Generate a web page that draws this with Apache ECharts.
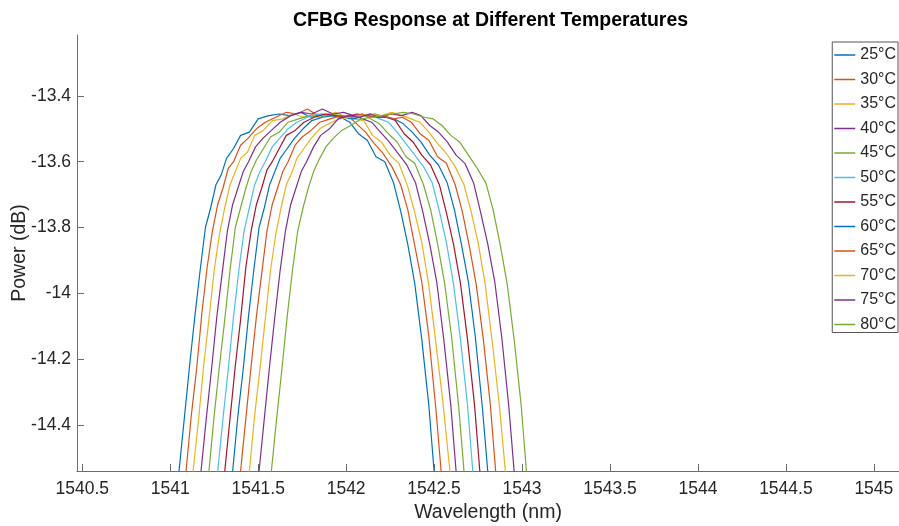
<!DOCTYPE html>
<html>
<head>
<meta charset="utf-8">
<title>CFBG Response</title>
<script src="https://cdn.jsdelivr.net/npm/echarts@6/dist/echarts.min.js"></script>
<style>
html, body { margin: 0; padding: 0; background: #fff; }
#main { width: 899px; height: 526px; }
</style>
</head>
<body>
<div id="main"></div>
<script>
var temps = ['25°C', '30°C', '35°C', '40°C', '45°C', '50°C', '55°C', '60°C', '65°C', '70°C', '75°C', '80°C'];
var xTicks = [1540.5, 1541, 1541.5, 1542, 1542.5, 1543, 1543.5, 1544, 1544.5, 1545];
var yTicks = [-14.4, -14.2, -14, -13.8, -13.6, -13.4];

// wavelength (nm) / power (dB), one pair of arrays per temperature
var wl25 = [1541.00, 1541.05, 1541.08, 1541.11, 1541.14, 1541.17, 1541.20, 1541.23, 1541.26, 1541.29, 1541.32, 1541.36, 1541.40, 1541.45, 1541.50, 1541.56, 1541.62, 1541.68, 1541.74, 1541.80, 1541.86, 1541.92, 1541.97, 1542.02, 1542.07, 1542.12, 1542.17, 1542.22, 1542.27, 1542.31, 1542.35, 1542.39, 1542.43, 1542.47, 1542.50, 1542.54];
var pw25 = [-14.76, -14.54, -14.38, -14.22, -14.07, -13.93, -13.80, -13.74, -13.67, -13.64, -13.59, -13.56, -13.52, -13.51, -13.47, -13.46, -13.455, -13.46, -13.45, -13.465, -13.455, -13.46, -13.465, -13.48, -13.515, -13.535, -13.585, -13.60, -13.665, -13.75, -13.85, -13.97, -14.14, -14.34, -14.54, -14.78];

var wl30 = [1541.04, 1541.09, 1541.12, 1541.15, 1541.18, 1541.21, 1541.24, 1541.27, 1541.30, 1541.33, 1541.36, 1541.40, 1541.44, 1541.49, 1541.54, 1541.60, 1541.66, 1541.72, 1541.78, 1541.84, 1541.90, 1541.96, 1542.01, 1542.06, 1542.11, 1542.16, 1542.21, 1542.26, 1542.31, 1542.35, 1542.39, 1542.43, 1542.47, 1542.51, 1542.54, 1542.58];
var pw30 = [-14.75, -14.54, -14.37, -14.23, -14.06, -13.92, -13.81, -13.73, -13.68, -13.62, -13.60, -13.55, -13.53, -13.50, -13.48, -13.465, -13.45, -13.455, -13.44, -13.46, -13.455, -13.465, -13.46, -13.485, -13.51, -13.545, -13.575, -13.615, -13.67, -13.745, -13.855, -13.965, -14.13, -14.35, -14.54, -14.77];

var wl35 = [1541.08, 1541.13, 1541.16, 1541.19, 1541.22, 1541.25, 1541.28, 1541.31, 1541.34, 1541.37, 1541.40, 1541.44, 1541.48, 1541.53, 1541.58, 1541.64, 1541.70, 1541.76, 1541.82, 1541.88, 1541.94, 1542.00, 1542.05, 1542.10, 1542.15, 1542.20, 1542.25, 1542.30, 1542.35, 1542.39, 1542.43, 1542.47, 1542.51, 1542.55, 1542.59, 1542.63];
var pw35 = [-14.77, -14.54, -14.39, -14.22, -14.08, -13.93, -13.82, -13.74, -13.67, -13.63, -13.59, -13.57, -13.52, -13.505, -13.475, -13.47, -13.455, -13.465, -13.455, -13.46, -13.45, -13.465, -13.47, -13.475, -13.52, -13.54, -13.58, -13.605, -13.675, -13.755, -13.845, -13.975, -14.15, -14.33, -14.54, -14.76];

var wl40 = [1541.125, 1541.175, 1541.205, 1541.235, 1541.265, 1541.295, 1541.325, 1541.355, 1541.385, 1541.415, 1541.445, 1541.485, 1541.525, 1541.575, 1541.625, 1541.685, 1541.745, 1541.805, 1541.865, 1541.925, 1541.985, 1542.045, 1542.095, 1542.145, 1542.195, 1542.245, 1542.295, 1542.345, 1542.395, 1542.435, 1542.475, 1542.515, 1542.555, 1542.595, 1542.625, 1542.665];
var pw40 = [-14.76, -14.54, -14.38, -14.23, -14.07, -13.94, -13.81, -13.73, -13.68, -13.63, -13.60, -13.555, -13.53, -13.505, -13.48, -13.46, -13.45, -13.455, -13.44, -13.455, -13.45, -13.46, -13.47, -13.48, -13.51, -13.54, -13.575, -13.61, -13.665, -13.75, -13.85, -13.965, -14.14, -14.34, -14.54, -14.77];

var wl45 = [1541.17, 1541.22, 1541.25, 1541.28, 1541.31, 1541.34, 1541.37, 1541.40, 1541.43, 1541.46, 1541.49, 1541.53, 1541.57, 1541.62, 1541.67, 1541.73, 1541.79, 1541.85, 1541.91, 1541.97, 1542.03, 1542.09, 1542.14, 1542.19, 1542.24, 1542.29, 1542.34, 1542.39, 1542.44, 1542.48, 1542.52, 1542.56, 1542.60, 1542.64, 1542.67, 1542.71];
var pw45 = [-14.75, -14.54, -14.37, -14.22, -14.08, -13.93, -13.80, -13.74, -13.68, -13.63, -13.595, -13.56, -13.525, -13.51, -13.48, -13.47, -13.46, -13.465, -13.455, -13.46, -13.465, -13.455, -13.47, -13.485, -13.515, -13.54, -13.585, -13.605, -13.67, -13.745, -13.85, -13.97, -14.135, -14.345, -14.54, -14.77];

var wl50 = [1541.22, 1541.27, 1541.30, 1541.33, 1541.36, 1541.39, 1541.42, 1541.45, 1541.48, 1541.51, 1541.54, 1541.58, 1541.62, 1541.67, 1541.72, 1541.78, 1541.84, 1541.90, 1541.96, 1542.02, 1542.08, 1542.14, 1542.19, 1542.24, 1542.29, 1542.34, 1542.39, 1542.44, 1542.49, 1542.53, 1542.57, 1542.61, 1542.65, 1542.69, 1542.72, 1542.76];
var pw50 = [-14.76, -14.54, -14.38, -14.23, -14.07, -13.93, -13.81, -13.74, -13.67, -13.63, -13.60, -13.555, -13.53, -13.50, -13.48, -13.465, -13.455, -13.46, -13.46, -13.47, -13.46, -13.455, -13.47, -13.48, -13.51, -13.545, -13.58, -13.615, -13.665, -13.75, -13.845, -13.97, -14.14, -14.34, -14.54, -14.76];

var wl55 = [1541.26, 1541.31, 1541.34, 1541.37, 1541.40, 1541.43, 1541.46, 1541.49, 1541.52, 1541.55, 1541.58, 1541.62, 1541.66, 1541.71, 1541.76, 1541.82, 1541.88, 1541.94, 1542.00, 1542.06, 1542.12, 1542.18, 1542.23, 1542.28, 1542.33, 1542.38, 1542.43, 1542.48, 1542.53, 1542.57, 1542.61, 1542.65, 1542.69, 1542.73, 1542.76, 1542.80];
var pw55 = [-14.77, -14.54, -14.38, -14.22, -14.08, -13.92, -13.81, -13.73, -13.68, -13.625, -13.60, -13.56, -13.52, -13.505, -13.48, -13.465, -13.455, -13.46, -13.465, -13.455, -13.46, -13.465, -13.465, -13.475, -13.515, -13.54, -13.58, -13.61, -13.67, -13.755, -13.85, -13.97, -14.14, -14.34, -14.54, -14.78];

var wl60 = [1541.305, 1541.355, 1541.385, 1541.415, 1541.445, 1541.475, 1541.505, 1541.535, 1541.565, 1541.595, 1541.625, 1541.665, 1541.705, 1541.755, 1541.805, 1541.865, 1541.925, 1541.985, 1542.045, 1542.105, 1542.165, 1542.225, 1542.275, 1542.325, 1542.375, 1542.425, 1542.475, 1542.525, 1542.575, 1542.615, 1542.655, 1542.695, 1542.735, 1542.775, 1542.805, 1542.845];
var pw60 = [-14.75, -14.54, -14.37, -14.23, -14.07, -13.93, -13.80, -13.74, -13.67, -13.63, -13.59, -13.56, -13.53, -13.50, -13.475, -13.465, -13.46, -13.465, -13.47, -13.46, -13.455, -13.465, -13.47, -13.485, -13.51, -13.54, -13.58, -13.61, -13.665, -13.745, -13.85, -13.965, -14.135, -14.35, -14.54, -14.77];

var wl65 = [1541.35, 1541.40, 1541.43, 1541.46, 1541.49, 1541.52, 1541.55, 1541.58, 1541.61, 1541.64, 1541.67, 1541.71, 1541.75, 1541.80, 1541.85, 1541.91, 1541.97, 1542.03, 1542.09, 1542.15, 1542.21, 1542.27, 1542.32, 1542.37, 1542.42, 1542.47, 1542.52, 1542.57, 1542.62, 1542.66, 1542.70, 1542.74, 1542.78, 1542.82, 1542.85, 1542.89];
var pw65 = [-14.76, -14.54, -14.38, -14.22, -14.07, -13.94, -13.81, -13.73, -13.68, -13.63, -13.60, -13.55, -13.525, -13.505, -13.48, -13.47, -13.46, -13.465, -13.455, -13.465, -13.46, -13.47, -13.465, -13.48, -13.515, -13.535, -13.585, -13.605, -13.67, -13.75, -13.855, -13.975, -14.14, -14.34, -14.54, -14.77];

var wl70 = [1541.40, 1541.45, 1541.48, 1541.51, 1541.54, 1541.57, 1541.60, 1541.63, 1541.66, 1541.69, 1541.72, 1541.76, 1541.80, 1541.85, 1541.90, 1541.96, 1542.02, 1542.08, 1542.14, 1542.20, 1542.26, 1542.32, 1542.37, 1542.42, 1542.47, 1542.52, 1542.57, 1542.62, 1542.67, 1542.71, 1542.75, 1542.79, 1542.83, 1542.87, 1542.905, 1542.945];
var pw70 = [-14.77, -14.54, -14.37, -14.23, -14.08, -13.93, -13.82, -13.74, -13.67, -13.635, -13.59, -13.56, -13.53, -13.50, -13.485, -13.47, -13.465, -13.46, -13.455, -13.46, -13.45, -13.46, -13.47, -13.48, -13.51, -13.545, -13.575, -13.615, -13.67, -13.75, -13.845, -13.97, -14.145, -14.335, -14.54, -14.76];

var wl75 = [1541.455, 1541.505, 1541.535, 1541.565, 1541.595, 1541.625, 1541.655, 1541.685, 1541.715, 1541.745, 1541.775, 1541.815, 1541.855, 1541.905, 1541.955, 1542.015, 1542.075, 1542.135, 1542.195, 1542.255, 1542.315, 1542.375, 1542.425, 1542.475, 1542.525, 1542.575, 1542.625, 1542.675, 1542.725, 1542.765, 1542.805, 1542.845, 1542.885, 1542.925, 1542.955, 1542.995];
var pw75 = [-14.75, -14.54, -14.38, -14.22, -14.07, -13.93, -13.81, -13.73, -13.68, -13.63, -13.60, -13.555, -13.52, -13.50, -13.47, -13.46, -13.465, -13.455, -13.465, -13.455, -13.46, -13.45, -13.46, -13.49, -13.51, -13.54, -13.58, -13.605, -13.665, -13.755, -13.85, -13.965, -14.135, -14.345, -14.54, -14.78];

var wl80 = [1541.525, 1541.575, 1541.605, 1541.635, 1541.665, 1541.695, 1541.725, 1541.755, 1541.785, 1541.815, 1541.845, 1541.885, 1541.925, 1541.975, 1542.025, 1542.085, 1542.145, 1542.205, 1542.265, 1542.325, 1542.385, 1542.445, 1542.495, 1542.545, 1542.595, 1542.645, 1542.695, 1542.745, 1542.795, 1542.835, 1542.875, 1542.915, 1542.955, 1542.995, 1543.025, 1543.065];
var pw80 = [-14.76, -14.54, -14.38, -14.23, -14.07, -13.93, -13.81, -13.74, -13.68, -13.63, -13.595, -13.555, -13.53, -13.505, -13.49, -13.47, -13.465, -13.46, -13.455, -13.45, -13.455, -13.465, -13.47, -13.49, -13.52, -13.54, -13.58, -13.62, -13.665, -13.745, -13.85, -13.97, -14.14, -14.34, -14.54, -14.77];

var wavelengths = [wl25, wl30, wl35, wl40, wl45, wl50, wl55, wl60, wl65, wl70, wl75, wl80];
var powers = [pw25, pw30, pw35, pw40, pw45, pw50, pw55, pw60, pw65, pw70, pw75, pw80];
var colors = ['#0072BD', '#D95319', '#EDB120', '#7E2F8E', '#77AC30', '#4DBEEE', '#A2142F',
              '#0072BD', '#D95319', '#EDB120', '#7E2F8E', '#77AC30'];

var font = 'Liberation Sans, Arial, Helvetica, sans-serif';
var txt = '#262626';
var axisCol = '#6e6e6e';

var series = [];
for (var i = 0; i < temps.length; i++) {
    var pts = [];
    for (var j = 0; j < wavelengths[i].length; j++) {
        pts.push([wavelengths[i][j], powers[i][j]]);
    }
    series.push({
        name: temps[i],
        type: 'line',
        data: pts,
        symbol: 'none',
        clip: true,
        animation: false,
        lineStyle: { color: colors[i], width: 1.2 },
        itemStyle: { color: colors[i] }
    });
}

// plain number labels, no thousands separator
function plain(v) {
    return String(Math.round(v * 10) / 10);
}

var myChart = echarts.init(document.getElementById('main'));
myChart.setOption({
    backgroundColor: '#fff',
    animation: false,
    title: {
        text: 'CFBG Response at Different Temperatures',
        left: 293,
        top: 11,
        padding: 0,
        textStyle: { fontFamily: font, fontSize: 19.5, fontWeight: 'bold', color: '#000' }
    },
    grid: { left: 77, right: 0, top: 35, bottom: 55, outerBoundsMode: 'none' },
    legend: {
        data: temps,
        orient: 'vertical',
        right: 1,
        top: 42,
        padding: [5, 2, 0, 2],
        icon: 'rect',
        itemWidth: 21,
        itemHeight: 1.5,
        itemGap: 8.5,
        itemTextGap: 2,
        borderColor: '#555',
        borderWidth: 1,
        backgroundColor: '#fff',
        textStyle: { fontFamily: font, fontSize: 16, color: txt, lineHeight: 12 }
    },
    xAxis: {
        type: 'value',
        min: 1540.47,
        max: 1545.143,
        name: 'Wavelength (nm)',
        nameLocation: 'middle',
        nameGap: 32,
        nameMoveOverlap: false,
        nameTextStyle: { fontFamily: font, fontSize: 19.5, color: txt },
        axisLine: { show: true, onZero: false, lineStyle: { color: axisCol, width: 1 } },
        axisTick: { show: true, inside: true, length: 7, customValues: xTicks, lineStyle: { color: axisCol } },
        axisLabel: { customValues: xTicks, formatter: plain, margin: 9, fontFamily: font, fontSize: 17.5, color: txt },
        splitLine: { show: false }
    },
    yAxis: {
        type: 'value',
        min: -14.54,
        max: -13.215,
        name: 'Power (dB)',
        nameLocation: 'middle',
        nameGap: 47,
        nameMoveOverlap: false,
        nameTextStyle: { fontFamily: font, fontSize: 19.5, color: txt },
        axisLine: { show: true, onZero: false, lineStyle: { color: axisCol, width: 1 } },
        axisTick: { show: true, inside: true, length: 7, customValues: yTicks, lineStyle: { color: axisCol } },
        axisLabel: { customValues: yTicks, formatter: plain, margin: 6, fontFamily: font, fontSize: 17.5, color: txt },
        splitLine: { show: false }
    },
    series: series
});

window.addEventListener('resize', function () { myChart.resize(); });
</script>
</body>
</html>
